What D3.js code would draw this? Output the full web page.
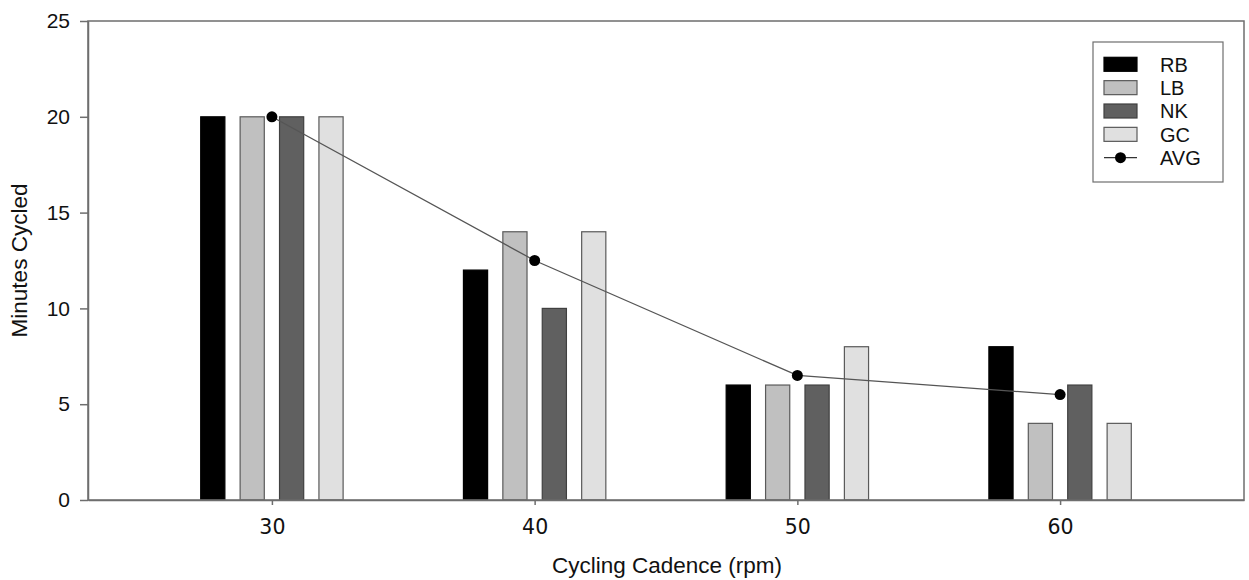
<!DOCTYPE html>
<html>
<head>
<meta charset="utf-8">
<script src="https://cdn.jsdelivr.net/npm/d3@7"></script>
<style>
  html, body { margin: 0; padding: 0; background: #fff; }
  svg { display: block; }
</style>
</head>
<body>
<svg id="chart" width="1249" height="580"></svg>
<script>
// Cadence levels (rpm) on the x axis
const cadences = [30, 40, 50, 60];

// Minutes cycled by each rider at each cadence
const seriesNames = ["RB", "LB", "NK", "GC"];
const rbValues = [20, 12, 6, 8];
const lbValues = [20, 14, 6, 4];
const nkValues = [20, 10, 6, 6];
const gcValues = [20, 14, 8, 4];

// Group average at each cadence
const avgValues = [20, 12.5, 6.5, 5.5];

// Axis ticks
const yTicks = [0, 5, 10, 15, 20, 25];
const xTicks = [30, 40, 50, 60];

(function () {
  const seriesValues = [rbValues, lbValues, nkValues, gcValues];
  const fills = { RB: "#000000", LB: "#c0c0c0", NK: "#606060", GC: "#e0e0e0" };
  const strokes = { RB: "#000000", LB: "#5a5a5a", NK: "#404040", GC: "#5a5a5a" };

  const svg = d3.select("#chart");
  const plotLeft = 88, plotRight = 1244, plotTop = 21, plotBottom = 500;

  const x = d3.scaleLinear().domain([23, 67]).range([plotLeft, plotRight]);
  const y = d3.scaleLinear().domain([0, 25]).range([plotBottom, plotTop]);

  // offset of each rider's bar from the cadence position, in rpm units
  const offset = d3.scalePoint().domain(seriesNames).range([-2.25, 2.25]);
  const halfWidth = 0.46;

  const plot = svg.append("g");

  // bars
  seriesNames.forEach((name, si) => {
    plot.selectAll(null)
      .data(cadences.map((c, i) => ({ c, v: seriesValues[si][i] })))
      .join("rect")
      .attr("x", d => x(d.c + offset(name) - halfWidth))
      .attr("width", d => x(d.c + offset(name) + halfWidth) - x(d.c + offset(name) - halfWidth))
      .attr("y", d => y(d.v))
      .attr("height", d => y(0) - y(d.v))
      .attr("fill", fills[name])
      .attr("stroke", strokes[name])
      .attr("stroke-width", 1.2);
  });

  // average line and markers
  const avgData = cadences.map((c, i) => ({ c, v: avgValues[i] }));
  plot.append("path")
    .datum(avgData)
    .attr("d", d3.line().x(d => x(d.c)).y(d => y(d.v)))
    .attr("fill", "none")
    .attr("stroke", "#555")
    .attr("stroke-width", 1.3);
  plot.selectAll(null)
    .data(avgData)
    .join("circle")
    .attr("cx", d => x(d.c))
    .attr("cy", d => y(d.v))
    .attr("r", 5.5)
    .attr("fill", "#000");

  // frame
  svg.append("rect")
    .attr("x", plotLeft).attr("y", plotTop)
    .attr("width", plotRight - plotLeft).attr("height", plotBottom - plotTop)
    .attr("fill", "none")
    .attr("stroke", "#6e6e6e")
    .attr("stroke-width", 1.5);

  // y axis
  const yAxis = svg.append("g")
    .attr("transform", `translate(${plotLeft},0)`)
    .call(d3.axisLeft(y).tickValues(yTicks).tickSize(8).tickSizeOuter(0).tickPadding(10).tickFormat(d3.format("d")));
  yAxis.select(".domain").attr("stroke", "#6e6e6e").attr("stroke-width", 1.5);
  yAxis.selectAll(".tick line").attr("stroke", "#6e6e6e").attr("stroke-width", 1.5);
  yAxis.selectAll(".tick text")
    .attr("fill", "#111")
    .style("font-family", "Arial, 'Liberation Sans', sans-serif")
    .style("font-size", "21px");

  // x axis
  const xAxis = svg.append("g")
    .attr("transform", `translate(0,${plotBottom})`)
    .call(d3.axisBottom(x).tickValues(xTicks).tickSize(5).tickSizeOuter(0).tickPadding(14).tickFormat(d3.format("d")));
  xAxis.select(".domain").attr("stroke", "#6e6e6e").attr("stroke-width", 1.5);
  xAxis.selectAll(".tick line").attr("stroke", "#6e6e6e").attr("stroke-width", 1.5);
  xAxis.selectAll(".tick text")
    .attr("fill", "#111")
    .style("font-family", "'DejaVu Sans', Verdana, sans-serif")
    .style("font-size", "20.5px");

  // axis titles
  svg.append("text")
    .attr("x", (plotLeft + plotRight) / 2 + 1)
    .attr("y", 573)
    .attr("text-anchor", "middle")
    .attr("fill", "#111")
    .style("font-family", "Arial, 'Liberation Sans', sans-serif")
    .style("font-size", "22.5px")
    .text("Cycling Cadence (rpm)");

  svg.append("text")
    .attr("transform", `translate(27,${(plotTop + plotBottom) / 2}) rotate(-90)`)
    .attr("text-anchor", "middle")
    .attr("fill", "#111")
    .style("font-family", "Arial, 'Liberation Sans', sans-serif")
    .style("font-size", "22.5px")
    .text("Minutes Cycled");

  // legend
  const legend = svg.append("g");
  legend.append("rect")
    .attr("x", 1093).attr("y", 42)
    .attr("width", 130).attr("height", 140)
    .attr("fill", "#fff")
    .attr("stroke", "#6e6e6e")
    .attr("stroke-width", 1.2);

  const legendItems = seriesNames.concat(["AVG"]);
  const rowY = d3.scalePoint().domain(legendItems).range([64.3, 157.7]);
  legendItems.forEach(name => {
    const cy = rowY(name);
    if (name === "AVG") {
      legend.append("line")
        .attr("x1", 1104).attr("x2", 1137)
        .attr("y1", cy).attr("y2", cy)
        .attr("stroke", "#333").attr("stroke-width", 1.3);
      legend.append("circle")
        .attr("cx", 1120.5).attr("cy", cy).attr("r", 5.5).attr("fill", "#000");
    } else {
      legend.append("rect")
        .attr("x", 1104).attr("y", cy - 7)
        .attr("width", 33).attr("height", 14)
        .attr("fill", fills[name])
        .attr("stroke", strokes[name])
        .attr("stroke-width", 1.2);
    }
    legend.append("text")
      .attr("x", 1160)
      .attr("y", cy)
      .attr("dy", "0.36em")
      .attr("fill", "#111")
      .style("font-family", "Arial, 'Liberation Sans', sans-serif")
      .style("font-size", "20px")
      .text(name);
  });
})();
</script>
</body>
</html>
